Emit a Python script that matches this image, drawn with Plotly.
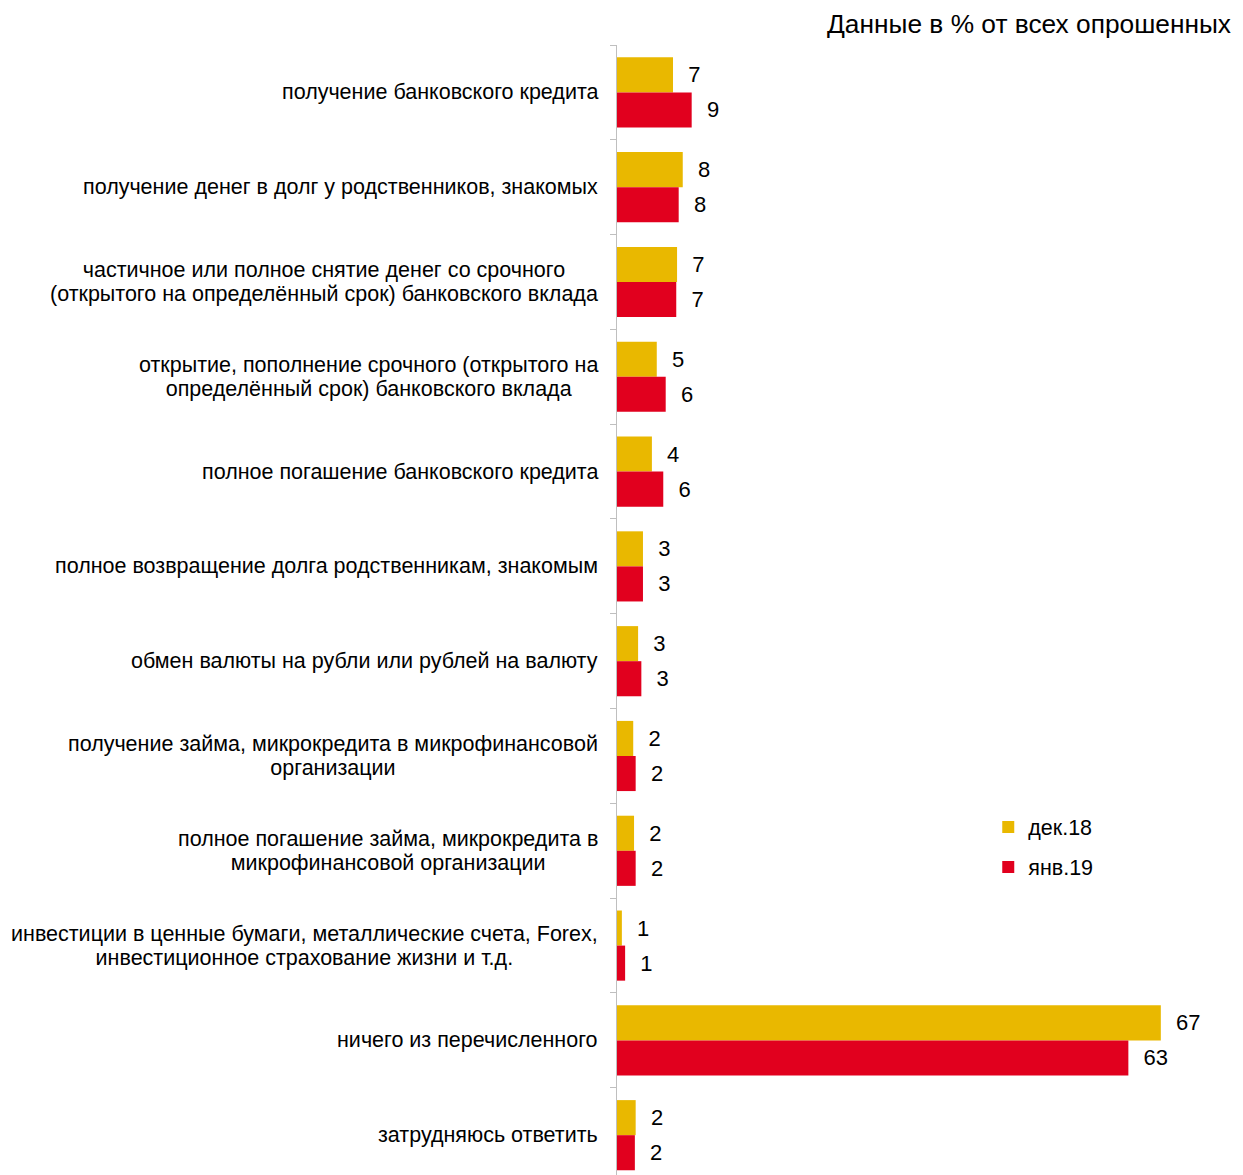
import plotly.graph_objects as go

categories = [
    "получение банковского кредита",
    "получение денег в долг у родственников, знакомых",
    "частичное или полное снятие денег со срочного<br>(открытого на определённый срок) банковского вклада",
    "открытие, пополнение срочного (открытого на<br>определённый срок) банковского вклада",
    "полное погашение банковского кредита",
    "полное возвращение долга родственникам, знакомым",
    "обмен валюты на рубли или рублей на валюту",
    "получение займа, микрокредита в микрофинансовой<br>организации",
    "полное погашение займа, микрокредита в<br>микрофинансовой организации",
    "инвестиции в ценные бумаги, металлические счета, Forex,<br>инвестиционное страхование жизни и т.д.",
    "ничего из перечисленного",
    "затрудняюсь ответить",
]
dec18 = [6.9, 8.1, 7.4, 4.9, 4.3, 3.2, 2.6, 2.0, 2.1, 0.6, 67.0, 2.3]
jan19 = [9.2, 7.6, 7.3, 6.0, 5.7, 3.2, 3.0, 2.3, 2.3, 1.0, 63.0, 2.2]
series_names = ["дек.18", "янв.19"]
colors = ["#E9B800", "#E1001E"]
title_text = "Данные в % от всех опрошенных"

FONT = "Arial, Liberation Sans, sans-serif"
NB = "\u00a0\u00a0"
LABEL_PX = 21.5

fig = go.Figure()
for name, vals, col in zip(series_names, [dec18, jan19], colors):
    fig.add_trace(go.Bar(
        y=categories, x=vals, name=name, orientation="h",
        marker=dict(color=col, line=dict(width=0)),
        texttemplate=NB + "%{x:.0f}", textposition="outside",
        textfont=dict(family=FONT, size=22, color="#000000"),
        cliponaxis=False, legendgroup=name,
    ))

for c in categories:
    styled = "<br>".join(
        f"<span style='font-size:{LABEL_PX}px'>{line}</span>" for line in c.split("<br>")
    )
    fig.add_annotation(
        x=0, xref="paper", y=c, yref="y", text=styled, showarrow=False,
        xanchor="right", yanchor="middle", align="center", xshift=-17,
        font=dict(family=FONT, size=18.5, color="#000000"),
    )

# page body has an 8px margin, so the figure is offset by (8, 8)
fig.update_layout(
    width=1235, height=1167,
    margin=dict(l=609, r=1, t=37, b=0),
    paper_bgcolor="white", plot_bgcolor="white",
    barmode="group", bargap=0.26, bargroupgap=0,
    title=dict(text=title_text, x=1223 / 1235, xanchor="right", y=1 - 16 / 1167, yanchor="middle",
               font=dict(family=FONT, size=26.3, color="#000000")),
    showlegend=True,
    legend=dict(x=0.594, y=0.326, xanchor="left", yanchor="top",
                font=dict(family=FONT, size=21.5, color="#000000"),
                tracegroupgap=9, bgcolor="rgba(0,0,0,0)"),
    xaxis=dict(range=[0, 77], showgrid=False, showticklabels=False, zeroline=False,
               showline=False, ticks=""),
    yaxis=dict(range=[11.42, -0.5], showgrid=False, showticklabels=False,
               showline=True, linecolor="#BFBFBF", linewidth=1,
               ticks="outside", ticklen=6, tickcolor="#BFBFBF", tickson="boundaries"),
)

fig.write_html("out.html")
